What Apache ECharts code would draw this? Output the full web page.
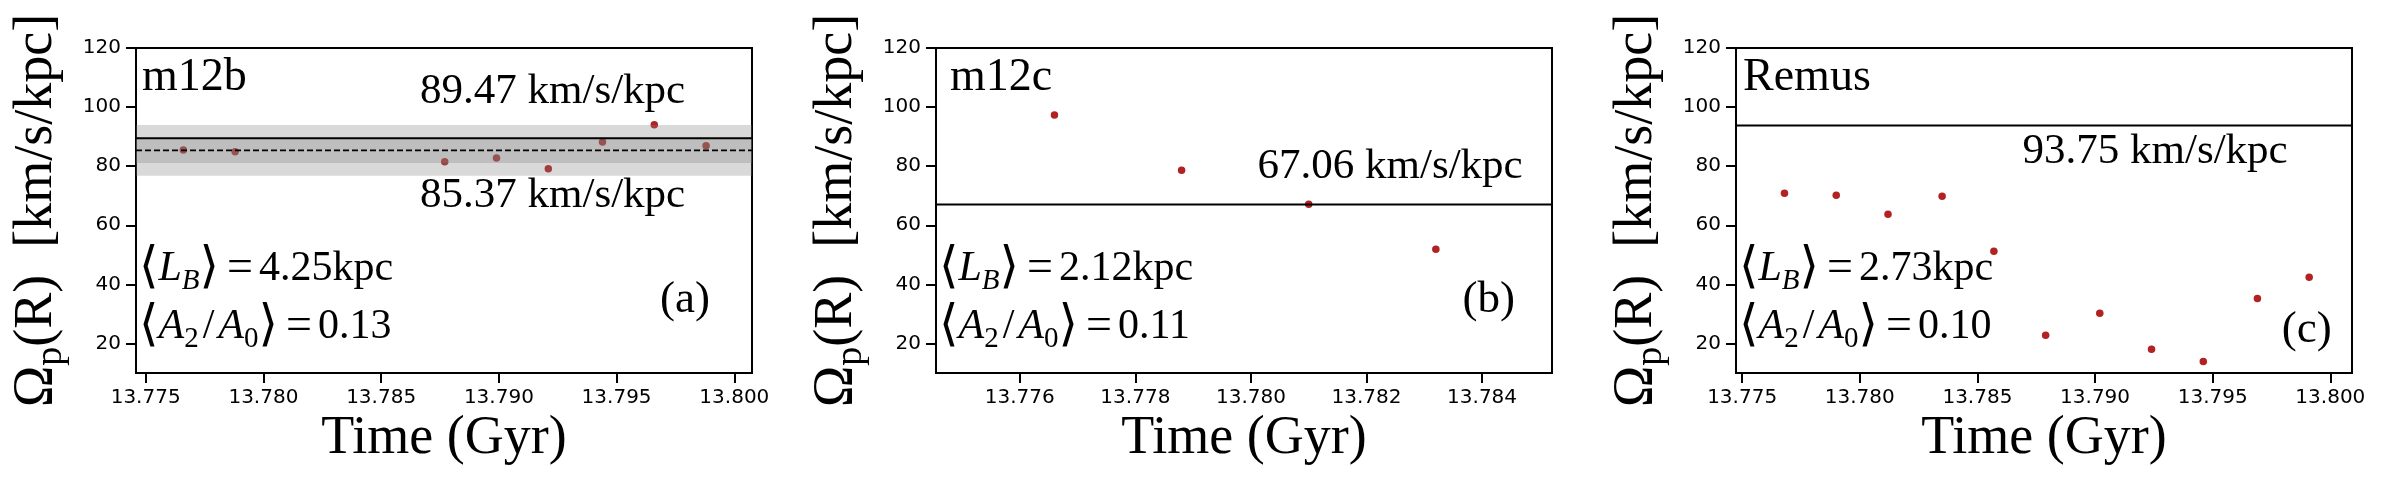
<!DOCTYPE html>
<html>
<head>
<meta charset="utf-8">
<script src="https://cdn.jsdelivr.net/npm/echarts@6/dist/echarts.min.js"></script>
<style>html,body{margin:0;padding:0;background:#fff}#chart{width:2400px;height:480px}</style>
</head>
<body>
<div id="chart"></div>
<script>
// ---------------- data ----------------
// Panel (a) m12b
const timeA = [13.7766, 13.7788, 13.7877, 13.7899, 13.7921, 13.7944, 13.7966, 13.7988];
const omegaA = [85.5, 84.9, 81.5, 82.8, 79.1, 88.2, 94.0, 86.9];
const fitA = 89.47;
const meanA = 85.37;
const band1A = [81.1, 89.6];   // mean +/- 1 sigma
const band2A = [76.8, 93.9];   // mean +/- 2 sigma
// Panel (b) m12c
const timeB = [13.7766, 13.7788, 13.7810, 13.7832];
const omegaB = [97.3, 78.6, 67.1, 51.9];
const fitB = 67.06;
// Panel (c) Remus
const timeC = [13.7768, 13.7790, 13.7812, 13.7835, 13.7857, 13.7879, 13.7902, 13.7924, 13.7946, 13.7969, 13.7991];
const omegaC = [70.85, 70.2, 63.7, 69.8, 51.2, 22.8, 30.2, 18.0, 13.9, 35.25, 42.4];
const fitC = 93.75;

// axes
const xRangeA = [13.77459, 13.80075];
const xRangeB = [13.77455, 13.78521];
const xRangeC = [13.77474, 13.80092];
const xTicksAC = [13.775, 13.780, 13.785, 13.790, 13.795, 13.800];
const xTicksB = [13.776, 13.778, 13.780, 13.782, 13.784];
const yRange = [10, 120];
const yTicks = [20, 40, 60, 80, 100, 120];

// texts
const panelNames = ['m12b', 'm12c', 'Remus'];
const panelTags = ['(a)', '(b)', '(c)'];
const barLengths = ['4.25', '2.12', '2.73'];
const barStrengths = ['0.13', '0.11', '0.10'];
const unit = 'km/s/kpc';
const xTitle = 'Time (Gyr)';

// ---------------- layout ----------------
const GL = [136, 936, 1736], GT = 48, GW = 616, GH = 325;
const SERIF = '"Liberation Serif", "Times New Roman", serif';
const SANS = '"DejaVu Sans", sans-serif';
const RED = '#b22222';

const grids = GL.map(l => ({ left: l, top: GT, width: GW, height: GH, show: true,
  borderColor: '#000', borderWidth: 2, backgroundColor: 'rgba(0,0,0,0)', containLabel: false, outerBoundsMode: 'none' }));

function xAxisFor(i, range, ticks) {
  return { type: 'value', gridIndex: i, min: range[0], max: range[1],
    axisLine: { show: true, onZero: false, lineStyle: { color: '#000', width: 2 } },
    axisTick: { show: true, length: 10, lineStyle: { color: '#000', width: 2 }, customValues: ticks },
    axisLabel: { customValues: ticks, formatter: v => v.toFixed(3), fontFamily: SANS, fontSize: 20, color: '#000', margin: 15 },
    splitLine: { show: false } };
}
function yAxisFor(i) {
  return { type: 'value', gridIndex: i, min: yRange[0], max: yRange[1],
    axisLine: { show: true, onZero: false, lineStyle: { color: '#000', width: 2 } },
    axisTick: { show: true, length: 10, lineStyle: { color: '#000', width: 2 }, customValues: yTicks },
    axisLabel: { customValues: yTicks, fontFamily: SANS, fontSize: 20, color: '#000', margin: 15 },
    splitLine: { show: false } };
}

function scatter(i, t, v) {
  return { type: 'scatter', xAxisIndex: i, yAxisIndex: i, z: 2, symbolSize: 7.5, silent: true,
    itemStyle: { color: RED, opacity: 1 }, data: t.map((x, k) => [x, v[k]]) };
}
function hline(i, range, val, dashed) {
  return { type: 'line', xAxisIndex: i, yAxisIndex: i, z: 4, symbol: 'none', silent: true,
    lineStyle: { color: '#000', width: dashed ? 1.8 : 2, type: dashed ? [6, 3] : 'solid' },
    data: [[range[0], val], [range[1], val]] };
}
function bands(i, range, list) {
  return { type: 'custom', xAxisIndex: i, yAxisIndex: i, z: 3, silent: true,
    data: list,
    renderItem: (params, api) => {
      const lo = api.coord([range[0], api.value(0)]);
      const hi = api.coord([range[1], api.value(1)]);
      return { type: 'rect', shape: { x: lo[0], y: hi[1], width: hi[0] - lo[0], height: lo[1] - hi[1] },
        style: { fill: 'rgba(128,128,128,0.3)' } };
    } };
}

// ---------------- texts ----------------
function txt(x, baseline, text, size, extra) {
  return { type: 'text', x: x, y: baseline - 0.3375 * size, silent: true, z: 20,
    style: Object.assign({ text: text, fontFamily: SERIF, fontSize: size, fill: '#000',
      align: 'left', verticalAlign: 'middle' }, extra || {}) };
}
const mathRich = {
  br: { fontFamily: '"DejaVu Sans", sans-serif', fontSize: 50, fill: '#000' },
  it: { fontFamily: SERIF, fontStyle: 'italic', fontSize: 42, fill: '#000' },
  sb: { fontFamily: SERIF, fontStyle: 'italic', fontSize: 29, padding: [26, 0, 0, 0], fill: '#000' },
  sr: { fontFamily: SERIF, fontSize: 29, padding: [26, 0, 0, 0], fill: '#000' },
  sl: { fontFamily: SERIF, fontSize: 42, padding: [0, 4, 0, 4], fill: '#000' },
  eq: { fontFamily: SERIF, fontSize: 46, padding: [0, 6, 0, 8], fill: '#000' },
  rm: { fontFamily: SERIF, fontSize: 42, fill: '#000' }
};
const ylabRich = {
  om: { fontFamily: SERIF, fontSize: 56, fill: '#000' },
  sp: { fontFamily: SERIF, fontSize: 38, padding: [28, 0, 0, 0], fill: '#000' },
  rm: { fontFamily: SERIF, fontSize: 54, fill: '#000' }
};

const fitTexts = [
  [[420, 106.7, fitA], [420, 210, meanA]],
  [[1257.5, 181.7, fitB]],
  [[2022.5, 166, fitC]]
];
const nameX = [142, 950, 1743];
const tagPos = [[660, 315], [1462.5, 315], [2281.7, 345]];

const graphics = [];
for (let i = 0; i < 3; i++) {
  graphics.push(txt(nameX[i], 93, panelNames[i], 46));
  fitTexts[i].forEach(f => graphics.push(txt(f[0], f[1], f[2].toFixed(2) + ' ' + unit, 43)));
  graphics.push(txt(GL[i] + 3, 283, '{br|⟨}{it|L}{sb|B}{br|⟩}{eq|=}{rm|' + barLengths[i] + 'kpc}', 42, { rich: mathRich }));
  graphics.push(txt(GL[i] + 3, 341, '{br|⟨}{it|A}{sr|2}{sl|/}{it|A}{sr|0}{br|⟩}{eq|=}{rm|' + barStrengths[i] + '}', 42, { rich: mathRich }));
  graphics.push(txt(tagPos[i][0], tagPos[i][1], panelTags[i], 45));
  graphics.push(txt(GL[i] + GW / 2, 457, xTitle, 54, { align: 'center' }));
  // y-axis title (rotated)
  graphics.push({ type: 'text', x: GL[i] - 99, y: GT + GH / 2, rotation: Math.PI / 2, silent: true, z: 20,
    style: { text: '{om|Ω}{sp|p}{rm|(R)  [' + unit + ']}', rich: ylabRich, fontFamily: SERIF, fontSize: 54,
      fill: '#000', align: 'center', verticalAlign: 'middle' } });
}

const chart = echarts.init(document.getElementById('chart'), null, { renderer: 'canvas' });
chart.setOption({
  animation: false,
  backgroundColor: '#fff',
  grid: grids,
  xAxis: [xAxisFor(0, xRangeA, xTicksAC), xAxisFor(1, xRangeB, xTicksB), xAxisFor(2, xRangeC, xTicksAC)],
  yAxis: [yAxisFor(0), yAxisFor(1), yAxisFor(2)],
  series: [
    scatter(0, timeA, omegaA),
    bands(0, xRangeA, [band2A, band1A]),
    hline(0, xRangeA, fitA, false),
    hline(0, xRangeA, meanA, true),
    scatter(1, timeB, omegaB),
    hline(1, xRangeB, fitB, false),
    scatter(2, timeC, omegaC),
    hline(2, xRangeC, fitC, false)
  ],
  graphic: graphics
});
</script>
</body>
</html>
